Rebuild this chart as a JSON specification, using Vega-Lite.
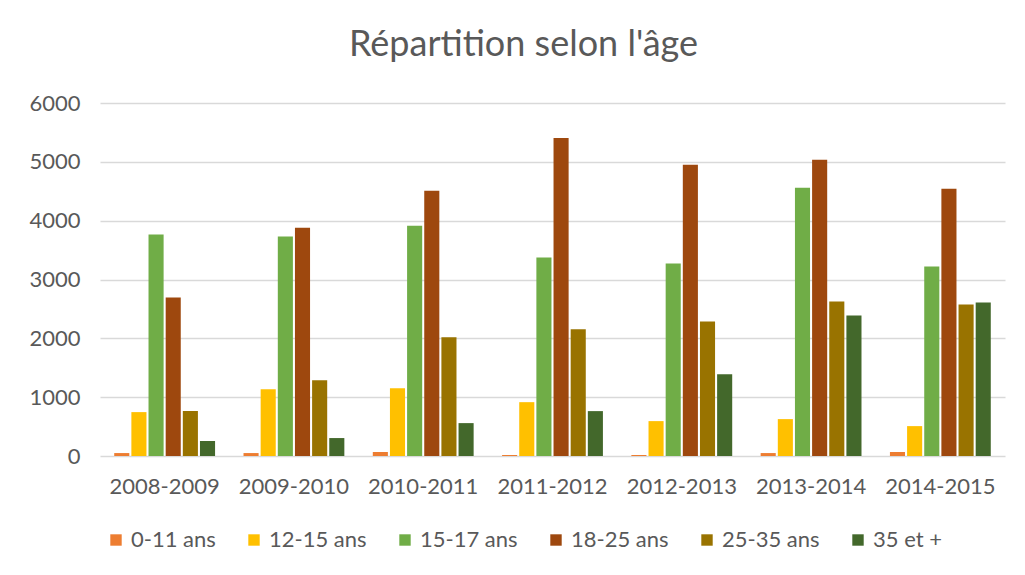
{
  "$schema": "https://vega.github.io/schema/vega-lite/v6.json",
  "width": 905,
  "height": 353,
  "autosize": {"type": "none"},
  "padding": {"left": 100, "top": 103, "right": 20, "bottom": 119},
  "background": "white",
  "title": {
    "text": "Répartition selon l'âge",
    "fontSize": 36,
    "font": "Lato",
    "fontWeight": "normal",
    "color": "#595959",
    "anchor": "middle",
    "dx": -29,
    "offset": 28
  },
  "data": {
    "values": [
      {"annee": "2008-2009", "age": "0-11 ans", "n": 50},
      {"annee": "2008-2009", "age": "12-15 ans", "n": 746},
      {"annee": "2008-2009", "age": "15-17 ans", "n": 3763},
      {"annee": "2008-2009", "age": "18-25 ans", "n": 2695},
      {"annee": "2008-2009", "age": "25-35 ans", "n": 763},
      {"annee": "2008-2009", "age": "35 et +", "n": 254},
      {"annee": "2009-2010", "age": "0-11 ans", "n": 50},
      {"annee": "2009-2010", "age": "12-15 ans", "n": 1136},
      {"annee": "2009-2010", "age": "15-17 ans", "n": 3729},
      {"annee": "2009-2010", "age": "18-25 ans", "n": 3881},
      {"annee": "2009-2010", "age": "25-35 ans", "n": 1288},
      {"annee": "2009-2010", "age": "35 et +", "n": 305},
      {"annee": "2010-2011", "age": "0-11 ans", "n": 68},
      {"annee": "2010-2011", "age": "12-15 ans", "n": 1153},
      {"annee": "2010-2011", "age": "15-17 ans", "n": 3915},
      {"annee": "2010-2011", "age": "18-25 ans", "n": 4508},
      {"annee": "2010-2011", "age": "25-35 ans", "n": 2017},
      {"annee": "2010-2011", "age": "35 et +", "n": 559},
      {"annee": "2011-2012", "age": "0-11 ans", "n": 17},
      {"annee": "2011-2012", "age": "12-15 ans", "n": 915},
      {"annee": "2011-2012", "age": "15-17 ans", "n": 3373},
      {"annee": "2011-2012", "age": "18-25 ans", "n": 5407},
      {"annee": "2011-2012", "age": "25-35 ans", "n": 2153},
      {"annee": "2011-2012", "age": "35 et +", "n": 763},
      {"annee": "2012-2013", "age": "0-11 ans", "n": 17},
      {"annee": "2012-2013", "age": "12-15 ans", "n": 593},
      {"annee": "2012-2013", "age": "15-17 ans", "n": 3271},
      {"annee": "2012-2013", "age": "18-25 ans", "n": 4949},
      {"annee": "2012-2013", "age": "25-35 ans", "n": 2288},
      {"annee": "2012-2013", "age": "35 et +", "n": 1390},
      {"annee": "2013-2014", "age": "0-11 ans", "n": 50},
      {"annee": "2013-2014", "age": "12-15 ans", "n": 627},
      {"annee": "2013-2014", "age": "15-17 ans", "n": 4559},
      {"annee": "2013-2014", "age": "18-25 ans", "n": 5034},
      {"annee": "2013-2014", "age": "25-35 ans", "n": 2627},
      {"annee": "2013-2014", "age": "35 et +", "n": 2390},
      {"annee": "2014-2015", "age": "0-11 ans", "n": 68},
      {"annee": "2014-2015", "age": "12-15 ans", "n": 508},
      {"annee": "2014-2015", "age": "15-17 ans", "n": 3220},
      {"annee": "2014-2015", "age": "18-25 ans", "n": 4542},
      {"annee": "2014-2015", "age": "25-35 ans", "n": 2576},
      {"annee": "2014-2015", "age": "35 et +", "n": 2610}
    ]
  },
  "mark": {"type": "bar"},
  "encoding": {
    "x": {
      "field": "annee",
      "type": "nominal",
      "title": null,
      "scale": {"paddingInner": 0.22, "paddingOuter": 0.11},
      "axis": {
        "labelAngle": 0,
        "domain": false,
        "ticks": false,
        "labelPadding": 20,
        "labelFontSize": 22,
        "labelFont": "Lato",
        "labelColor": "#595959"
      }
    },
    "xOffset": {
      "field": "age",
      "type": "nominal",
      "sort": ["0-11 ans", "12-15 ans", "15-17 ans", "18-25 ans", "25-35 ans", "35 et +"],
      "scale": {"paddingInner": 0.12}
    },
    "y": {
      "field": "n",
      "type": "quantitative",
      "title": null,
      "scale": {"domain": [0, 6000], "nice": false},
      "axis": {
        "values": [0, 1000, 2000, 3000, 4000, 5000, 6000],
        "format": "d",
        "domain": false,
        "ticks": false,
        "labelPadding": 20,
        "labelFontSize": 22,
        "labelFont": "Lato",
        "labelColor": "#595959",
        "gridColor": "#D9D9D9",
        "gridWidth": 1.3
      }
    },
    "color": {
      "field": "age",
      "type": "nominal",
      "sort": ["0-11 ans", "12-15 ans", "15-17 ans", "18-25 ans", "25-35 ans", "35 et +"],
      "scale": {
        "domain": ["0-11 ans", "12-15 ans", "15-17 ans", "18-25 ans", "25-35 ans", "35 et +"],
        "range": ["#ED7D31", "#FFC000", "#70AD47", "#9E480E", "#997300", "#43682B"]
      },
      "legend": {
        "title": null,
        "orient": "none",
        "direction": "horizontal",
        "legendX": 5,
        "legendY": 426,
        "symbolType": "square",
        "symbolSize": 130,
        "symbolStrokeWidth": 0,
        "labelFontSize": 22,
        "labelFont": "Lato",
        "labelColor": "#595959",
        "labelOffset": 4,
        "columnPadding": 27,
        "labelLimit": 300
      }
    }
  },
  "config": {
    "view": {"stroke": null}
  }
}
